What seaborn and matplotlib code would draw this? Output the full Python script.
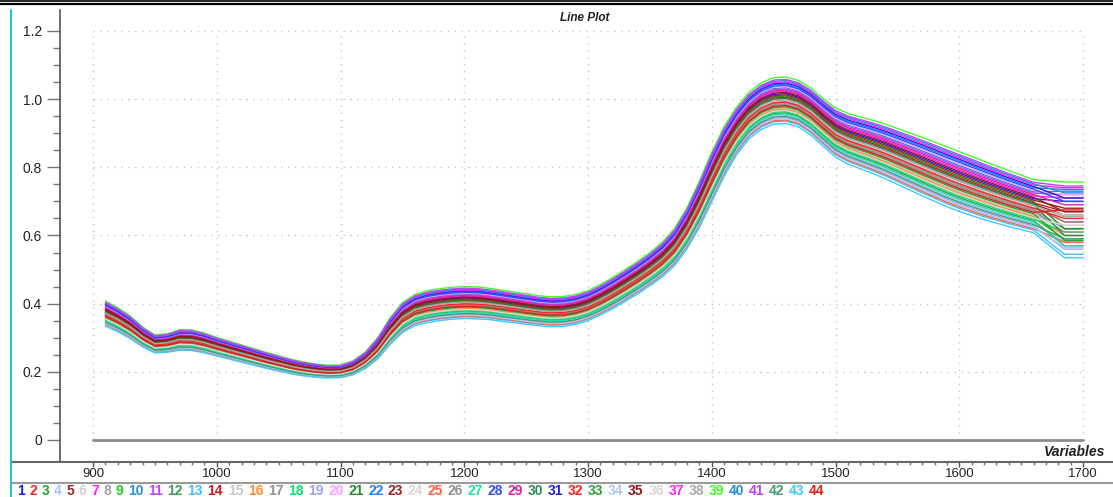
import numpy as np
import pandas as pd
import matplotlib.pyplot as plt
import seaborn as sns
from matplotlib.lines import Line2D
from matplotlib.ticker import FixedLocator

## wavelength grid (nm); the last two points carry each sample's end value
wavelengths = list(range(910, 1661, 10)) + [1685, 1700]

## centre of the bundle of spectra (910..1660 nm)
mean_curve = [0.370, 0.352, 0.330, 0.302, 0.281, 0.284, 0.293, 0.292, 0.284, 0.273,
              0.263, 0.253, 0.243, 0.233, 0.224, 0.215, 0.208, 0.203, 0.200, 0.201,
              0.211, 0.233, 0.268, 0.318, 0.358, 0.380, 0.390, 0.396, 0.400, 0.402,
              0.401, 0.398, 0.393, 0.388, 0.383, 0.378, 0.375, 0.376, 0.382, 0.393,
              0.410, 0.430, 0.452, 0.475, 0.500, 0.528, 0.565, 0.620, 0.690, 0.770,
              0.845, 0.905, 0.950, 0.978, 0.993, 0.995, 0.985, 0.962, 0.930, 0.900,
              0.882, 0.870, 0.858, 0.845, 0.830, 0.815, 0.800, 0.785, 0.770, 0.756,
              0.743, 0.730, 0.718, 0.706, 0.695, 0.684]

## half width of the bundle at each wavelength
spread = [0.038, 0.036, 0.034, 0.030, 0.027, 0.028, 0.031, 0.031, 0.030, 0.028,
          0.027, 0.026, 0.025, 0.024, 0.023, 0.022, 0.021, 0.020, 0.019, 0.019,
          0.021, 0.025, 0.032, 0.040, 0.045, 0.047, 0.048, 0.048, 0.048, 0.048,
          0.048, 0.047, 0.047, 0.046, 0.046, 0.045, 0.045, 0.045, 0.045, 0.045,
          0.046, 0.047, 0.048, 0.049, 0.050, 0.052, 0.056, 0.062, 0.070, 0.075,
          0.075, 0.072, 0.070, 0.070, 0.070, 0.070, 0.070, 0.071, 0.072, 0.074,
          0.076, 0.078, 0.080, 0.082, 0.084, 0.086, 0.088, 0.089, 0.090, 0.090,
          0.089, 0.088, 0.086, 0.084, 0.082, 0.080]

samples = list(range(1, 45))

## where each sample sits in the bundle (-1 bottom, +1 top)
positions = [0.30, 0.00, -0.10, -0.60, 0.10, -0.20, 0.40, -0.10, -0.40, 0.55,
             0.50, -0.50, -0.85, 0.15, -0.30, -0.35, 0.05, -0.45, -0.70, 0.60,
             0.20, 0.70, 0.25, 0.00, -0.80, -0.15, -0.55, 0.65, 0.45, 0.10,
             0.75, -0.05, -0.25, -0.75, 0.35, -0.40, 0.80, 0.05, 1.00, 0.85,
             0.90, -0.65, -0.95, -0.20]

## value of each sample at the right end (1700 nm)
tail_1700 = [0.700, 0.640, 0.620, 0.580, 0.660, 0.600, 0.710, 0.620, 0.590, 0.730,
             0.720, 0.570, 0.545, 0.670, 0.630, 0.600, 0.640, 0.610, 0.560, 0.720,
             0.620, 0.735, 0.680, 0.660, 0.580, 0.610, 0.570, 0.700, 0.690, 0.600,
             0.710, 0.650, 0.585, 0.565, 0.670, 0.630, 0.740, 0.655, 0.757, 0.725,
             0.745, 0.590, 0.535, 0.675]

colors = ['#1a1aff', '#ff2020', '#2e9a2e', '#a8c4ff', '#9a2a2a', '#d0d0d0', '#ff20ff', '#a0a0a0', '#20d020', '#2090d0',
          '#c040ff', '#3a9a5a', '#40c0ff', '#d01818', '#c8c8c8', '#ff8c30', '#909090', '#10e070', '#a0a0ff', '#ffa0ff',
          '#209020', '#2080ff', '#a02020', '#d8d8d8', '#ff6040', '#909090', '#20e0a0', '#3050ff', '#e020a0', '#2e8b57',
          '#2020e0', '#ff2020', '#30a030', '#b0c8f0', '#8b1a1a', '#d8d8d8', '#ff20ff', '#a8a8a8', '#40ff20', '#2090e0',
          '#c040ff', '#40a070', '#40c8ff', '#e02020']

rows = []
for s, p, t in zip(samples, positions, tail_1700):
    vals = [m + p * h for m, h in zip(mean_curve, spread)] + [t, t]
    for w, v in zip(wavelengths, vals):
        rows.append((s, w, v))
df = pd.DataFrame(rows, columns=['sample', 'wavelength', 'value'])

sns.set_style('white')
plt.rcParams['font.family'] = ['Liberation Sans', 'DejaVu Sans']

W, H = 1113, 497
fig = plt.figure(figsize=(W / 100, H / 100), dpi=100)
ax = fig.add_axes([11 / W, 35 / H, (W - 11) / W, 452 / H])
ax.set_facecolor('white')

## dotted grid only inside the data box
grid_style = dict(color='#c4c4c4', lw=1, ls=(0, (1, 4)), zorder=0)
for x in range(900, 1701, 100):
    ax.plot([x, x], [0, 1.2], **grid_style)
for y in [0.2, 0.4, 0.6, 0.8, 1.0, 1.2]:
    ax.plot([900, 1700], [y, y], **grid_style)
ax.plot([900, 1700], [0, 0], color='#8c8c8c', lw=2, zorder=1)

sns.lineplot(data=df, x='wavelength', y='value', hue='sample',
             palette=dict(zip(samples, colors)), estimator=None,
             legend=False, lw=1, ax=ax, zorder=2)

ax.set_xlim(833.7, 1724.2)
ax.set_ylim(-0.0646, 1.2616)
ax.set_xlabel('')
ax.set_ylabel('')

for side in ['top', 'right']:
    ax.spines[side].set_visible(False)
ax.spines['left'].set_position(('data', 873.3))
ax.spines['left'].set_color('#555555')
ax.spines['left'].set_linewidth(1.2)
ax.spines['bottom'].set_color('#666666')
ax.spines['bottom'].set_linewidth(1.5)

ax.set_xticks(range(900, 1701, 100))
ax.xaxis.set_minor_locator(FixedLocator(range(900, 1701, 10)))
ax.set_yticks([0, 0.2, 0.4, 0.6, 0.8, 1.0, 1.2])
ax.set_yticklabels(['0', '0.2', '0.4', '0.6', '0.8', '1.0', '1.2'])
ax.yaxis.set_minor_locator(FixedLocator(np.arange(0, 1.21, 0.05)))
ax.tick_params(axis='x', which='both', bottom=True)
ax.tick_params(axis='y', which='both', left=True)
ax.tick_params(axis='x', which='major', direction='out', length=3.5, width=1,
               color='#555555', labelsize=9.5, labelcolor='#222222', pad=1)
ax.tick_params(axis='x', which='minor', direction='out', length=1.8, width=1, color='#777777')
ax.tick_params(axis='y', which='major', direction='out', length=9.4, width=1,
               color='#777777', labelsize=10, labelcolor='#222222', pad=3.5)
ax.tick_params(axis='y', which='minor', direction='out', length=5, width=1, color='#777777')

fig.text(585 / W, 1 - 18 / H, 'Line Plot', ha='center', va='center',
         fontsize=8.5, style='italic', weight='bold', color='#222222')
fig.text(1105 / W, 1 - 452 / H, 'Variables', ha='right', va='center',
         fontsize=10, style='italic', weight='bold', color='#222222')

## frame lines around the plot window
fig.add_artist(Line2D([0, 1], [1 - 0.6 / H] * 2, color='black', lw=1.2))
fig.add_artist(Line2D([0, 1], [1 - 3.8 / H] * 2, color='black', lw=1.6))
fig.add_artist(Line2D([11 / W] * 2, [0, 1 - 10 / H], color='#22c4c4', lw=1.5))
fig.add_artist(Line2D([11 / W, 1], [1 - 483 / H] * 2, color='#9a9a9a', lw=1.5))

## coloured sample numbers along the bottom
renderer = fig.canvas.get_renderer()
xpos = 17
for s, c in zip(samples, colors):
    t = fig.text(xpos / W, 1 - 491 / H, str(s), color=c, fontsize=10,
                 weight='bold', ha='left', va='center')
    xpos += t.get_window_extent(renderer).width + 4.6

fig.savefig('out.png', dpi=100)
